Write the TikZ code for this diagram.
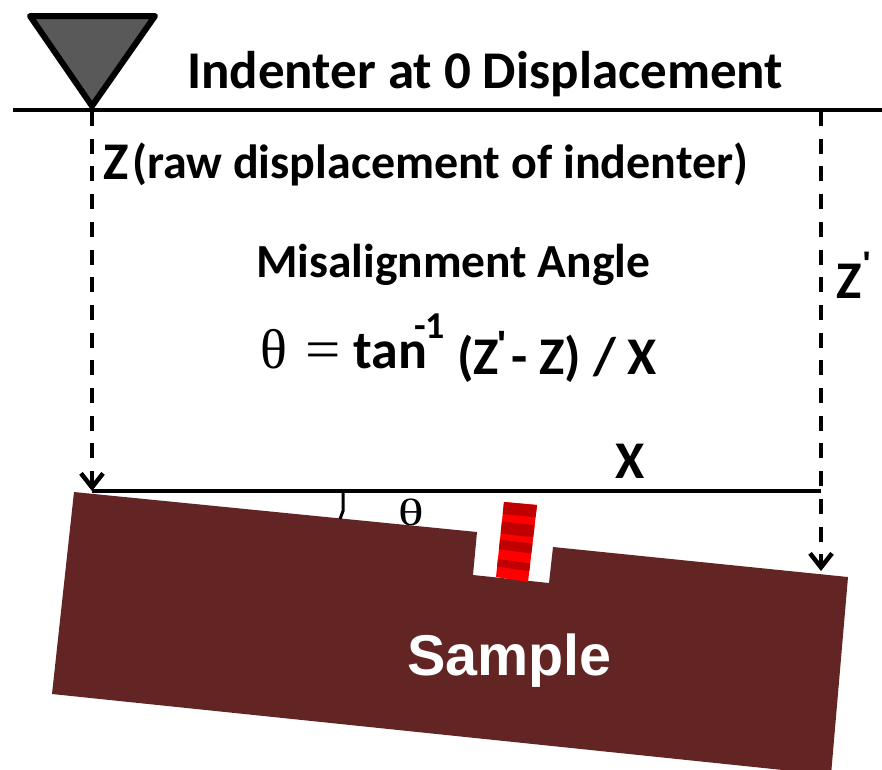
\documentclass[tikz,border=0pt]{standalone}
\usepackage{fontspec}
\usepackage{graphicx}
\setmainfont{Carlito}
\newfontfamily\lib{Liberation Sans}
\newfontfamily\libserif{Liberation Serif}
\usetikzlibrary{arrows.meta,calc}
\definecolor{samplecol}{HTML}{632523}
\definecolor{tipgrey}{HTML}{595959}
\definecolor{darkred}{HTML}{C00000}
\definecolor{brightred}{HTML}{FF0000}
\tikzset{
  lbl/.style={inner sep=0pt,font=\bfseries\fontsize{#1}{#1}\selectfont,text=black},
  solidline/.style={line width=3.6pt,draw=black},
  dashline/.style={line width=4.2pt,draw=black,dash pattern=on 15pt off 12.7pt,-{Straight Barb[length=14pt,width=22pt,line width=4.5pt]}},
  mathlbl/.style={inner sep=0pt,text=black,font=\libserif\fontsize{#1}{#1}\selectfont}
}
\newcommand{\band}[3]{%
  \fill[#3] ($(tl)!#1!(bl)$) -- ($(tr)!#1!(br)$) -- ($(tr)!#2!(br)$) -- ($(tl)!#2!(bl)$) -- cycle;}
\begin{document}
\begin{tikzpicture}[x=1pt,y=-1pt]
\useasboundingbox (0,0) rectangle (882,769);
\begin{scope}
\clip (0,0) rectangle (882,769);
\fill[samplecol] (74,492) -- (477,532) -- (473,575) -- (549,583) -- (553,547) -- (848,577) -- (831,775) -- (52,694) -- cycle;
\end{scope}
\coordinate (tl) at (504,502);
\coordinate (tr) at (537,505);
\coordinate (bl) at (496,577);
\coordinate (br) at (528,582);
\fill[brightred] (tl) -- (tr) -- (br) -- (bl) -- cycle;
\band{0}{0.16}{darkred}
\band{0.26}{0.42}{darkred}
\band{0.50}{0.63}{darkred}
\band{0.76}{0.86}{darkred}
% indenter
\coordinate (tipA) at (30,16);
\coordinate (tipB) at (155,16);
\coordinate (tipC) at (92,106);
\draw[line width=6pt,line join=round,fill=tipgrey] (tipA) -- (tipB) -- (tipC) -- cycle;
% lines
\coordinate (refL) at (13,110);
\coordinate (refR) at (882,110);
\draw[solidline] (refL) -- (refR);
\coordinate (zTop) at (92,111);
\coordinate (zBot) at (92,491);
\coordinate (zpTop) at (821,111);
\coordinate (zpBot) at (821,571);
\draw[dashline] (zTop) -- (zBot);
\draw[dashline] (zpTop) -- (zpBot);
\coordinate (xL) at (92,491);
\coordinate (xR) at (821,491);
\draw[solidline] (xL) -- (xR);
\coordinate (a1) at (343,491);
\coordinate (a2) at (343,511);
\coordinate (a3) at (340,519);
\draw[line width=3pt] (a1) -- (a2) -- (a3);
% text
\node[lbl=53,anchor=base west] (title) at (187,88) {Indenter at 0 Displacement};
\node[lbl=53,anchor=base west] (z) at (103,179) {Z};
\node[lbl=48,anchor=base west] (raw) at (132,178) {(raw displacement of indenter)};
\node[lbl=47.5,anchor=base west] (mis) at (256,277) {Misalignment Angle};
\node[lbl=53,anchor=base west] (zp) at (836,298) {Z\kern1pt\raisebox{23pt}{\lib\bfseries\fontsize{34}{34}\selectfont '}};
\node[mathlbl=56,anchor=base west] (th) at (260,368) {θ};
\node[mathlbl=56,anchor=base west] (eq) at (305,368) {\scalebox{1.12}[1]{=}};
\node[lbl=54,anchor=base west] (tan) at (353,368) {tan\kern-13pt\raisebox{30pt}{\fontsize{38}{38}\selectfont -1}};
\node[lbl=53,anchor=base west] (rest) at (457,374) {(Z\kern-2pt\raisebox{17pt}{\lib\bfseries\fontsize{38}{38}\selectfont '}\kern5pt- Z) / X};
\node[lbl=53,anchor=base west] (x) at (615,478) {X};
\node[mathlbl=38,anchor=base west] (th2) at (398,525) {\scalebox{1.4}[1]{θ}};
\node[inner sep=0pt,anchor=base west,text=white,font=\lib\bfseries\fontsize{57.5}{57.5}\selectfont] (s) at (407,675) {Sample};
\end{tikzpicture}
\end{document}
